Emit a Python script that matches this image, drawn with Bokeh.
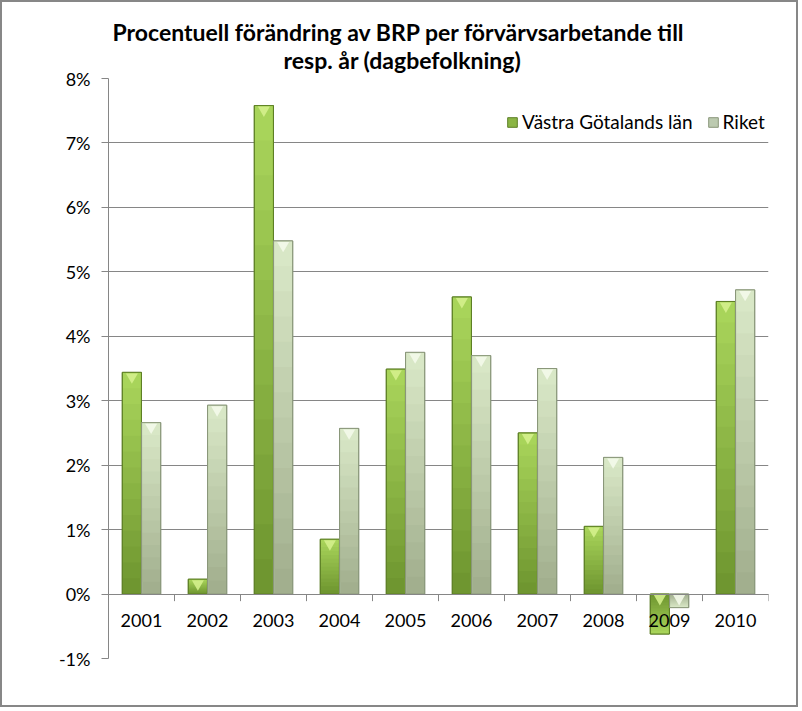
import numpy as np
from bokeh.plotting import figure
from bokeh.models import (FactorRange, Title, Legend, LegendItem, PrintfTickFormatter,
                          FixedTicker, ColumnDataSource)
from bokeh.transform import dodge
from bokeh.embed import file_html
from bokeh.resources import INLINE

# ---- data ----
years = ["2001", "2002", "2003", "2004", "2005", "2006", "2007", "2008", "2009", "2010"]
vgr = [3.44, 0.23, 7.58, 0.85, 3.49, 4.61, 2.50, 1.05, -0.62, 4.54]
riket = [2.66, 2.93, 5.48, 2.57, 3.75, 3.70, 3.50, 2.12, -0.21, 4.72]
series_names = ["Västra Götalands län", "Riket"]
y_ticks = [-1, 0, 1, 2, 3, 4, 5, 6, 7, 8]
title_lines = ["Procentuell förändring  av BRP per förvärvsarbetande till",
               "resp. år (dagbefolkning)"]

FONT = "Lato"
GRID = "#868686"

p = figure(x_range=FactorRange(*years), y_range=(-1, 8),
           width=798, height=707, output_backend="svg", toolbar_location=None,
           min_border_left=106, min_border_right=32, min_border_top=76,
           min_border_bottom=51)
p.styles = {"border": "2px solid #878787"}
p.outline_line_color = None
p.background_fill_color = "white"
p.border_fill_color = "white"

# axes / grid
p.xgrid.grid_line_color = None
p.ygrid.ticker = FixedTicker(ticks=y_ticks)
p.ygrid.grid_line_color = GRID
p.ygrid.grid_line_width = 1

p.yaxis.ticker = FixedTicker(ticks=y_ticks)
p.yaxis.formatter = PrintfTickFormatter(format="%d%%")
p.yaxis.axis_line_color = GRID
p.yaxis.major_tick_line_color = GRID
p.yaxis.major_tick_out = 7
p.yaxis.major_tick_in = 0
p.yaxis.minor_tick_line_color = None
p.yaxis.major_label_standoff = 11
p.yaxis.major_label_text_font = FONT
p.yaxis.major_label_text_font_size = "18px"
p.yaxis.major_label_text_color = "black"

p.xaxis.fixed_location = 0
p.xaxis.axis_line_color = GRID
p.xaxis.major_tick_line_color = None
p.xaxis.major_tick_out = 0
p.xaxis.major_tick_in = 0
p.xaxis.major_label_standoff = 20
p.xaxis.major_label_text_font = FONT
p.xaxis.major_label_text_font_size = "18px"
p.xaxis.major_label_text_color = "black"

src = ColumnDataSource(dict(year=years, vgr=vgr, riket=riket,
                            zero=[0] * len(years), tick=[-0.11] * len(years)))

# category boundary ticks
p.segment(x0=dodge("year", 0.5, range=p.x_range), x1=dodge("year", 0.5, range=p.x_range),
          y0="zero", y1="tick", source=src, line_color=GRID, line_width=1)


def hex2rgb(h):
    h = h.lstrip("#")
    return [int(h[i:i + 2], 16) for i in (0, 2, 4)]


def lerp(c0, c1, t):
    a, b = hex2rgb(c0), hex2rgb(c1)
    return "#%02x%02x%02x" % tuple(int(round(a[i] + (b[i] - a[i]) * t)) for i in range(3))


W = 0.29
N = 14
specs = [
    ("vgr", -0.146, "#6f9630", "#a8d45a", "#8bb544", "#5d7f25", "#d4f08c", series_names[0]),
    ("riket", 0.146, "#a2af8e", "#d8e7c6", "#bccab0", "#8a977a", "#f4faea", series_names[1]),
]
legend_items = []
for key, off, c_bot, c_top, c_mid, edge, hl, name in specs:
    vals = np.array(src.data[key], dtype=float)
    xs = dodge("year", off, range=p.x_range)
    base = p.vbar(x=xs, top=key, bottom=0, width=W, source=src,
                  fill_color=c_mid, line_color=edge, line_width=1)
    legend_items.append(LegendItem(label=name, renderers=[base]))
    for k in range(N):
        bsrc = ColumnDataSource(dict(year=years, b=vals * k / N, t=vals))
        p.vbar(x=xs, bottom="b", top="t", width=W - 0.02, source=bsrc,
               fill_color=lerp(c_bot, c_top, k / (N - 1)), line_color=None)
    p.vbar(x=xs, top=key, bottom=0, width=W, source=src,
           fill_color=None, line_color=edge, line_width=1)
    tsrc = ColumnDataSource(dict(year=years, y=np.maximum(vals, 0) - 0.07))
    p.scatter(x=xs, y="y", source=tsrc, marker="inverted_triangle", size=12,
              fill_color=hl, line_color=None, fill_alpha=0.9)

legend = Legend(items=legend_items, location=(398, 525), orientation="horizontal",
                background_fill_alpha=0, border_line_color=None, padding=0, margin=0,
                spacing=14, glyph_width=12, glyph_height=12, label_standoff=4,
                label_text_font=FONT, label_text_font_size="19px",
                label_text_color="black", label_height=20)
p.add_layout(legend)

# titles: second line closest to plot, first line above it
title_offsets = [4, 175]
title_standoffs = [-15, 10]
for txt, off, so in reversed(list(zip(title_lines, title_offsets, title_standoffs))):
    p.add_layout(Title(text=txt, align="left", offset=off, standoff=so,
                       text_font=FONT, text_font_style="bold", text_font_size="23px",
                       text_color="black"), "above")

open("out.html", "w").write(file_html(p, INLINE))
